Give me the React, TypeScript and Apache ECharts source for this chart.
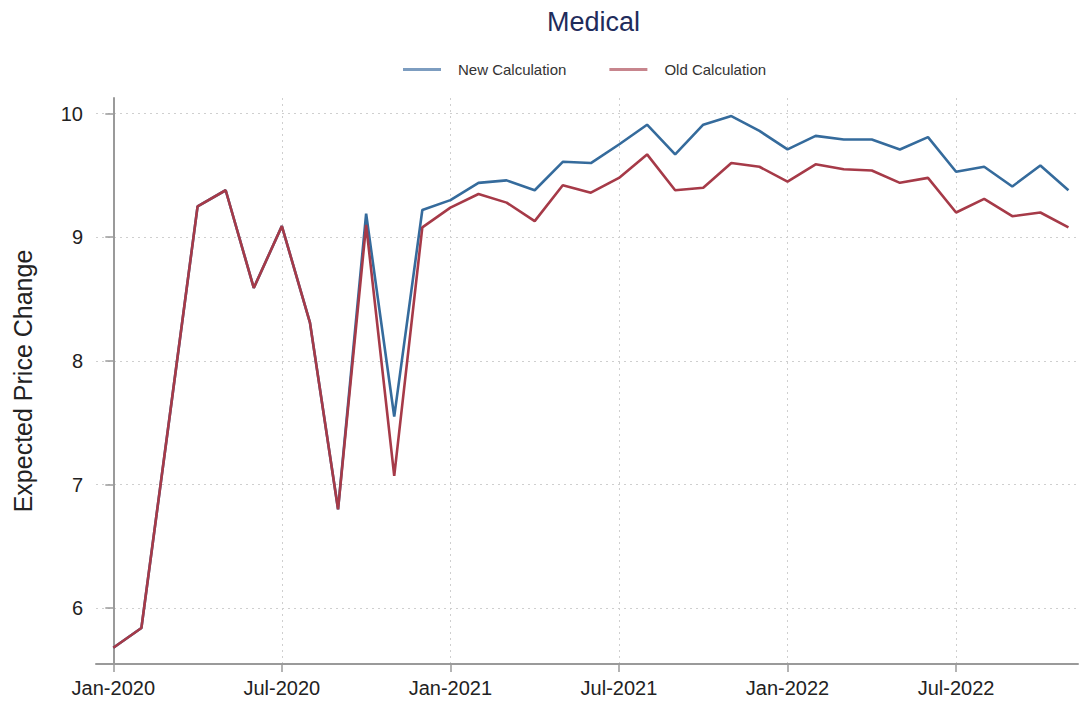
import React, { useEffect, useRef } from "react";
import * as echarts from "echarts";

const months: string[] = [
  "Jan-2020", "Feb-2020", "Mar-2020", "Apr-2020", "May-2020", "Jun-2020",
  "Jul-2020", "Aug-2020", "Sep-2020", "Oct-2020", "Nov-2020", "Dec-2020",
  "Jan-2021", "Feb-2021", "Mar-2021", "Apr-2021", "May-2021", "Jun-2021",
  "Jul-2021", "Aug-2021", "Sep-2021", "Oct-2021", "Nov-2021", "Dec-2021",
  "Jan-2022", "Feb-2022", "Mar-2022", "Apr-2022", "May-2022", "Jun-2022",
  "Jul-2022", "Aug-2022", "Sep-2022", "Oct-2022", "Nov-2022",
];

const newCalculation: number[] = [
  5.68, 5.84, 7.54, 9.25, 9.38, 8.59, 9.09, 8.31, 6.80, 9.19, 7.55, 9.22,
  9.30, 9.44, 9.46, 9.38, 9.61, 9.60, 9.75, 9.91, 9.67, 9.91, 9.98, 9.86,
  9.71, 9.82, 9.79, 9.79, 9.71, 9.81, 9.53, 9.57, 9.41, 9.58, 9.38,
];

const oldCalculation: number[] = [
  5.68, 5.84, 7.54, 9.25, 9.38, 8.59, 9.09, 8.31, 6.80, 9.10, 7.07, 9.08,
  9.24, 9.35, 9.28, 9.13, 9.42, 9.36, 9.48, 9.67, 9.38, 9.40, 9.60, 9.57,
  9.45, 9.59, 9.55, 9.54, 9.44, 9.48, 9.20, 9.31, 9.17, 9.20, 9.08,
];

const xTickIndices: number[] = [0, 6, 12, 18, 24, 30];
const yTicks: number[] = [6, 7, 8, 9, 10];

const FONT = '"Liberation Sans", Arial, Helvetica, sans-serif';
const BLUE = "#356b9c";
const RED = "#a63a48";

export default function App() {
  const ref = useRef<HTMLDivElement>(null);

  useEffect(() => {
    if (!ref.current) return;
    const chart = echarts.init(ref.current, undefined, { renderer: "svg" });
    const gridLine = { show: true, lineStyle: { color: "#cfcfcf", type: [2, 4] as any, width: 1 } };
    chart.setOption({
      animation: false,
      backgroundColor: "#ffffff",
      textStyle: { fontFamily: FONT },
      title: {
        text: "Medical",
        left: 542,
        top: 3,
        textStyle: { fontFamily: FONT, fontSize: 27, fontWeight: "normal", color: "#1f2c5c" },
      },
      legend: {
        left: 398,
        top: 57,
        itemWidth: 38,
        itemHeight: 3,
        itemGap: 43,
        icon: "rect",
        textStyle: { fontFamily: FONT, fontSize: 15, color: "#333", padding: [0, 0, 0, 12] },
        data: [
          { name: "New Calculation", itemStyle: { color: "#7d9dc0" } },
          { name: "Old Calculation", itemStyle: { color: "#c7858d" } },
        ],
      },
      grid: { left: 96, right: 2, top: 98, bottom: 39, containLabel: false },
      xAxis: {
        type: "value",
        min: -0.616,
        max: 34.34,
        axisLine: { show: true, lineStyle: { color: "#9a9a9a", width: 2 } },
        axisTick: {
          show: true,
          length: 8,
          customValues: xTickIndices,
          lineStyle: { color: "#9a9a9a", width: 1.5 },
        },
        axisLabel: {
          customValues: xTickIndices,
          formatter: (v: number) => months[Math.round(v)] ?? "",
          fontFamily: FONT,
          fontSize: 20,
          color: "#222",
          margin: 14,
        },
        splitLine: gridLine,
      },
      yAxis: {
        type: "value",
        min: 5.549,
        max: 10.126,
        name: "Expected Price Change",
        nameLocation: "middle",
        nameRotate: 90,
        nameGap: 61,
        nameTextStyle: { fontFamily: FONT, fontSize: 25, color: "#222" },
        axisLine: { show: true, lineStyle: { color: "#9a9a9a", width: 2 } },
        axisTick: {
          show: true,
          length: 8,
          customValues: yTicks,
          lineStyle: { color: "#9a9a9a", width: 1.5 },
        },
        axisLabel: {
          customValues: yTicks,
          fontFamily: FONT,
          fontSize: 20,
          color: "#222",
          margin: 13,
        },
        splitLine: gridLine,
      },
      series: [
        {
          name: "New Calculation",
          type: "line",
          data: newCalculation.map((v, i) => [i, v]),
          showSymbol: false,
          symbol: "none",
          lineStyle: { color: BLUE, width: 2.6 },
          itemStyle: { color: BLUE },
          z: 2,
        },
        {
          name: "Old Calculation",
          type: "line",
          data: oldCalculation.map((v, i) => [i, v]),
          showSymbol: false,
          symbol: "none",
          lineStyle: { color: RED, width: 2.6 },
          itemStyle: { color: RED },
          z: 3,
        },
      ],
    });
    return () => chart.dispose();
  }, []);

  return (
    <div
      ref={ref}
      style={{ position: "fixed", left: 0, top: 0, width: 1080, height: 703, background: "#fff" }}
    />
  );
}
